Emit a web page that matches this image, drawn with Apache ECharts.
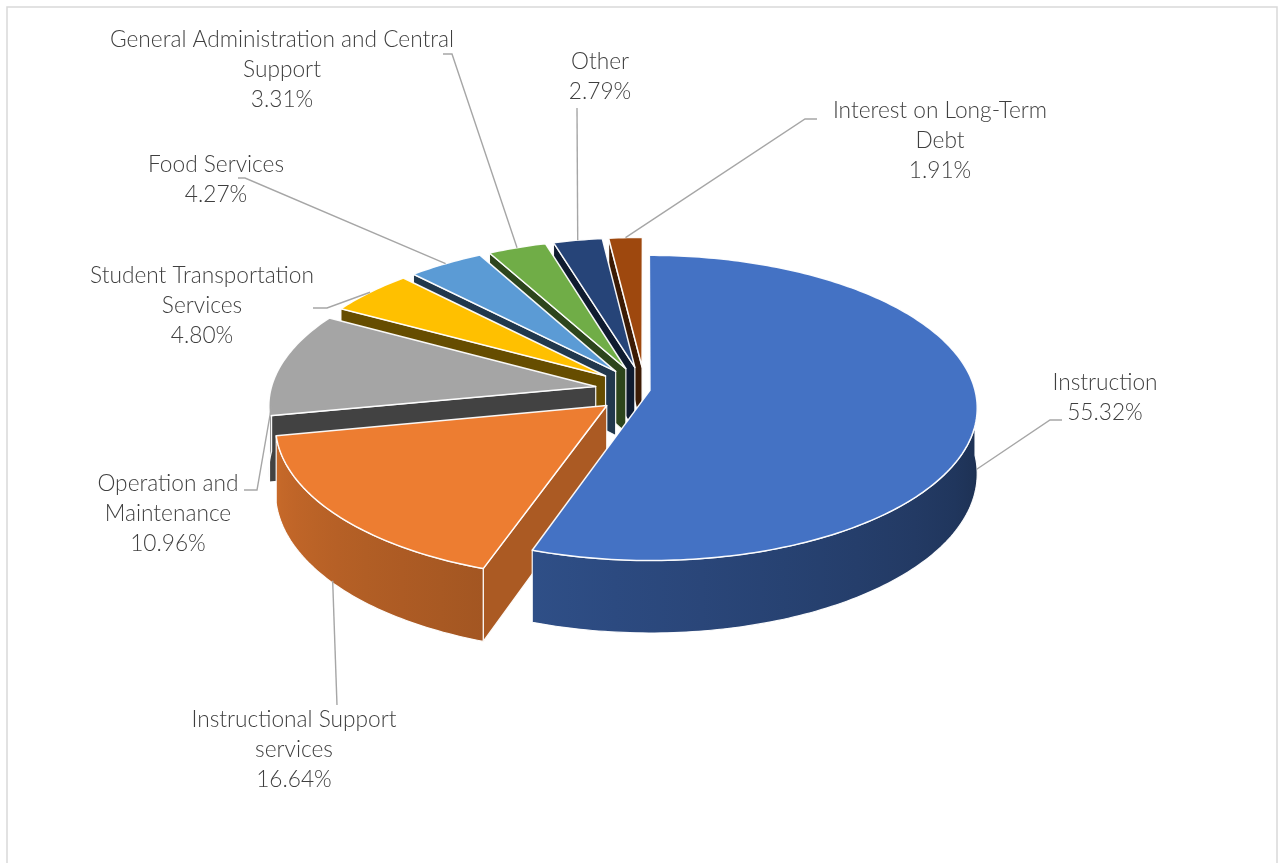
<!DOCTYPE html>
<html><head><meta charset="utf-8">
<script src="https://cdn.jsdelivr.net/npm/echarts@6/dist/echarts.min.js"></script>
<style>html,body{margin:0;padding:0;background:#fff}#chart{width:1278px;height:863px}</style>
</head><body><div id="chart"></div>
<script>
// ---- data ----
const categories = ['Instruction', 'Instructional Support services', 'Operation and Maintenance',
  'Student Transportation Services', 'Food Services', 'General Administration and Central Support',
  'Other', 'Interest on Long-Term Debt'];
const shares = [55.32, 16.64, 10.96, 4.80, 4.27, 3.31, 2.79, 1.91];

// ---- styles / layout ----
const colors = ['#4472C4', '#ED7D31', '#A5A5A5', '#FFC000', '#5B9BD5', '#70AD47', '#264478', '#9E480E'];
const sideShade = [0.4, 0.72, 0.4, 0.4, 0.36, 0.4, 0.4, 0.38];
const explodePx = [5, 50, 50, 50, 50, 50, 50, 50];
const PIE = { cx: 645, cy: 390, rx: 325, ry: 152.5, depth: 65, persp: 0.115 };
// label: x = centre, y = top, words = words on first line (0 = no wrap), anchor = leader start points,
// frac = position inside slice for leader end, h = height on wall (0 top .. 1 bottom)
const labelLayout = [
  { x: 1105, y: 368, words: 0, anchor: [[1062, 420], [1050, 420]], frac: 0.5, h: 0.8 },
  { x: 294, y: 705, words: 2, anchor: [[337, 705]], frac: 0.52, h: 0.97 },
  { x: 168, y: 469, words: 2, anchor: [[244, 490], [257, 490]], frac: 0.28, h: 0.3 },
  { x: 202, y: 261, words: 2, anchor: [[313, 308], [327, 308]], frac: 0.5, h: 0 },
  { x: 216, y: 150, words: 0, anchor: [[238, 178], [245, 178]], frac: 0.5, h: 0 },
  { x: 282, y: 25, words: 4, anchor: [[443, 54], [452, 54]], frac: 0.5, h: 0 },
  { x: 600, y: 47, words: 0, anchor: [[577, 108]], frac: 0.5, h: 0 },
  { x: 940, y: 96, words: 3, anchor: [[817, 119], [805, 119]], frac: 0.5, h: 0 }
];
const labelFont = { fontFamily: 'Lato', fontSize: 22.7, fontWeight: 300, lineHeight: 30, fill: '#3f3f3f' };

const D2R = Math.PI / 180;
function proj(u, v, h) {
  const s = 1 + PIE.persp * v;
  return [PIE.cx + PIE.rx * u * s, PIE.cy + PIE.ry * v * s + PIE.depth * h * s];
}
function rim(ou, ov, t, h) { return proj(ou + Math.sin(t * D2R), ov - Math.cos(t * D2R), h); }
function arc(ou, ov, a, b, h) {
  const n = Math.max(2, Math.ceil(Math.abs(b - a)) + 1), pts = [];
  for (let k = 0; k < n; k++) pts.push(rim(ou, ov, a + (b - a) * k / (n - 1), h));
  return pts;
}
function shade(hex, f) {
  const n = parseInt(hex.slice(1), 16);
  const r = Math.round(((n >> 16) & 255) * f), g = Math.round(((n >> 8) & 255) * f), b = Math.round((n & 255) * f);
  return 'rgb(' + Math.min(255, r) + ',' + Math.min(255, g) + ',' + Math.min(255, b) + ')';
}
function wallF(t) { return Math.max(0.35, Math.min(0.9, 0.4 + (t - 90) * 0.00265)); }

const total = shares.reduce((a, b) => a + b, 0);

function renderItem(params, api) {
  const i = params.dataIndex;
  const val = api.value(0);
  let before = 0;
  for (let k = 0; k < i; k++) before += shares[k];
  const ts = before / total * 360, te = (before + val) / total * 360, tm = (ts + te) / 2;
  const e = explodePx[i] / PIE.rx;
  const ou = e * Math.sin(tm * D2R), ov = -e * Math.cos(tm * D2R);
  const col = colors[i];
  const children = [];
  const edge = { stroke: 'rgba(255,255,255,0.95)', lineWidth: 1.2, lineJoin: 'round' };

  // radial side faces (front-most drawn last)
  [[ts, -1], [te, 1]].forEach(([t, sg]) => {
    const sv = Math.sin(t * D2R) * sg;
    if (sv > 1e-6) {
      const front = sg < 0 ? (360 - t) : t;
      const pts = [proj(ou, ov, 0), rim(ou, ov, t, 0), rim(ou, ov, t, 1), proj(ou, ov, 1)];
      children.push({ type: 'polygon', z2: 10 + front / 36, shape: { points: pts },
        style: Object.assign({ fill: shade(col, sideShade[i]) }, edge) });
    }
  });
  // outer wall (front-facing part)
  const a = Math.max(ts, 90), b = Math.min(te, 270);
  if (b > a) {
    const top = arc(ou, ov, a, b, 0), bot = arc(ou, ov, b, a, 1);
    const xs = top.map(p => p[0]);
    const xmin = Math.min(...xs), xmax = Math.max(...xs);
    const stops = [];
    const ns = 8;
    for (let k = 0; k <= ns; k++) {
      const t = a + (b - a) * k / ns;
      const p = rim(ou, ov, t, 0);
      stops.push({ offset: xmax > xmin ? (p[0] - xmin) / (xmax - xmin) : 0, color: shade(col, wallF(t)) });
    }
    stops.sort((p, q) => p.offset - q.offset);
    children.push({ type: 'polygon', z2: 25, shape: { points: top.concat(bot) },
      style: Object.assign({ fill: { type: 'linear', x: 0, y: 0, x2: 1, y2: 0, colorStops: stops } }, edge) });
  }
  // top face
  const topPts = [proj(ou, ov, 0)].concat(arc(ou, ov, ts, te, 0));
  children.push({ type: 'polygon', z2: 30, shape: { points: topPts },
    style: { fill: col, stroke: 'rgba(255,255,255,0.95)', lineWidth: 1.5, lineJoin: 'round' } });

  // label + leader
  const L = labelLayout[i];
  const tt = ts + (te - ts) * L.frac;
  const target = rim(ou, ov, tt, L.h);
  children.push({ type: 'polyline', z2: 40, shape: { points: L.anchor.concat([target]) },
    style: { stroke: '#a6a6a6', lineWidth: 1.4, fill: null } });
  const words = categories[i].split(' ');
  const nameText = L.words > 0 && L.words < words.length
    ? words.slice(0, L.words).join(' ') + '\n' + words.slice(L.words).join(' ')
    : categories[i];
  children.push({ type: 'text', z2: 41, style: Object.assign({
    text: nameText + '\n' + val.toFixed(2) + '%', x: L.x, y: L.y, align: 'center', verticalAlign: 'top'
  }, labelFont) });
  return { type: 'group', children: children };
}

const chart = echarts.init(document.getElementById('chart'), null, { renderer: 'canvas' });
chart.setOption({
  animation: false,
  backgroundColor: '#fff',
  graphic: [{ type: 'rect', silent: true, shape: { x: 7, y: 7, width: 1270, height: 900 },
    style: { fill: 'rgba(0,0,0,0)', stroke: '#d9d9d9', lineWidth: 1.5 } }],
  series: [{
    type: 'custom', coordinateSystem: 'none', silent: true,
    data: shares.map((v, i) => ({ name: categories[i], value: [v] })),
    renderItem: renderItem
  }]
});
</script></body></html>
